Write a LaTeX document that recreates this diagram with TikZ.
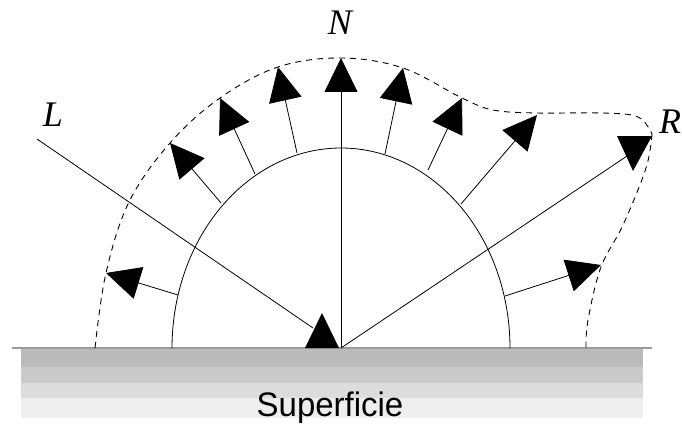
\documentclass[tikz,border=0pt]{standalone}
\usepackage{fontspec}
\setmainfont{Liberation Serif}
\newfontfamily\labsans{Liberation Sans}
\usetikzlibrary{arrows.meta}
\definecolor{bandA}{HTML}{BBBBBB}
\definecolor{bandB}{HTML}{CACACA}
\definecolor{bandC}{HTML}{DCDCDC}
\definecolor{bandD}{HTML}{EEEEEE}
\definecolor{edgegrey}{HTML}{9A9A9A}
\tikzset{
  thin line/.style={line width=0.8pt, black},
  vec/.style={thin line, -{Triangle[length=34pt, width=33pt]}},
  outer/.style={line width=0.9pt, dash pattern=on 6pt off 5pt},
  lab/.style={font=\fontsize{36}{38}\selectfont\itshape, inner sep=0pt},
  headtri/.style={fill=black, draw=none}
}
\begin{document}
\begin{tikzpicture}[x=1pt,y=-1pt]
\useasboundingbox (0,0) rectangle (682,425);
% surface bands
\fill[bandA] (21,348) rectangle (643,367);
\fill[bandB] (21,367) rectangle (643,383);
\fill[bandC] (21,383) rectangle (643,398);
\fill[bandD] (21,398) rectangle (643,418);
\coordinate (sl) at (12,347.5);
\coordinate (sr) at (652,347.5);
\draw[edgegrey, line width=2pt] (sl) -- (sr);
\node[font=\labsans\fontsize{34}{36}\selectfont, anchor=base, inner sep=0pt, xscale=0.97] (sup) at (330,416) {Superficie};

% origin
\coordinate (O) at (341,348);

% inner half ellipse
\draw[thin line] plot[domain=180:360, samples=120] ({341+169*cos(\x)}, {348+200*sin(\x)});

% outer dashed lobe
\draw[outer] plot[smooth, tension=0.6] coordinates {(95,348) (106,273) (129,202) (170,143) (220,98) (278,67) (341,58) (403,68) (462,98) (493,110) (537,113) (603,113) (638,117) (652,134)};
\draw[outer] plot[smooth, tension=0.6] coordinates {(652,134) (646,168) (623,225) (601,267) (588,320) (586,348)};

% labels
\node[lab] (N) at (340,23) {N};
\node[lab] (L) at (53,115) {L};
\node[lab] (R) at (670,122) {R};

% light direction
\coordinate (Ls) at (37,139);
\coordinate (Le) at (313,328);
\draw[thin line] (Ls) -- (Le);
\fill[headtri] (322,313) -- (339,348) -- (305,348) -- cycle;

% reflected direction
\coordinate (Re) at (627,156);
\draw[thin line] (O) -- (Re);
\fill[headtri] (617,136) -- (652,136) -- (633,171) -- cycle;

% normal
\coordinate (Nt) at (341,58);
\draw[vec] (O) -- (Nt);

% scattered vectors
\coordinate (b1) at (178,295); \coordinate (t1) at (106,273);
\coordinate (b2) at (221,203); \coordinate (t2) at (170,143);
\coordinate (b3) at (255,174); \coordinate (t3) at (220,98);
\coordinate (b4) at (297,153); \coordinate (t4) at (278,67);
\coordinate (b6) at (385,154); \coordinate (t6) at (403,68);
\coordinate (b7) at (428,170); \coordinate (t7) at (462,98);
\coordinate (b8) at (461,204); \coordinate (t8) at (537,115);
\coordinate (b9) at (505,296); \coordinate (t9) at (601,265);
\foreach \i in {1,2,3,4,6,7,8,9} { \draw[vec] (b\i) -- (t\i); }
\end{tikzpicture}
\end{document}
